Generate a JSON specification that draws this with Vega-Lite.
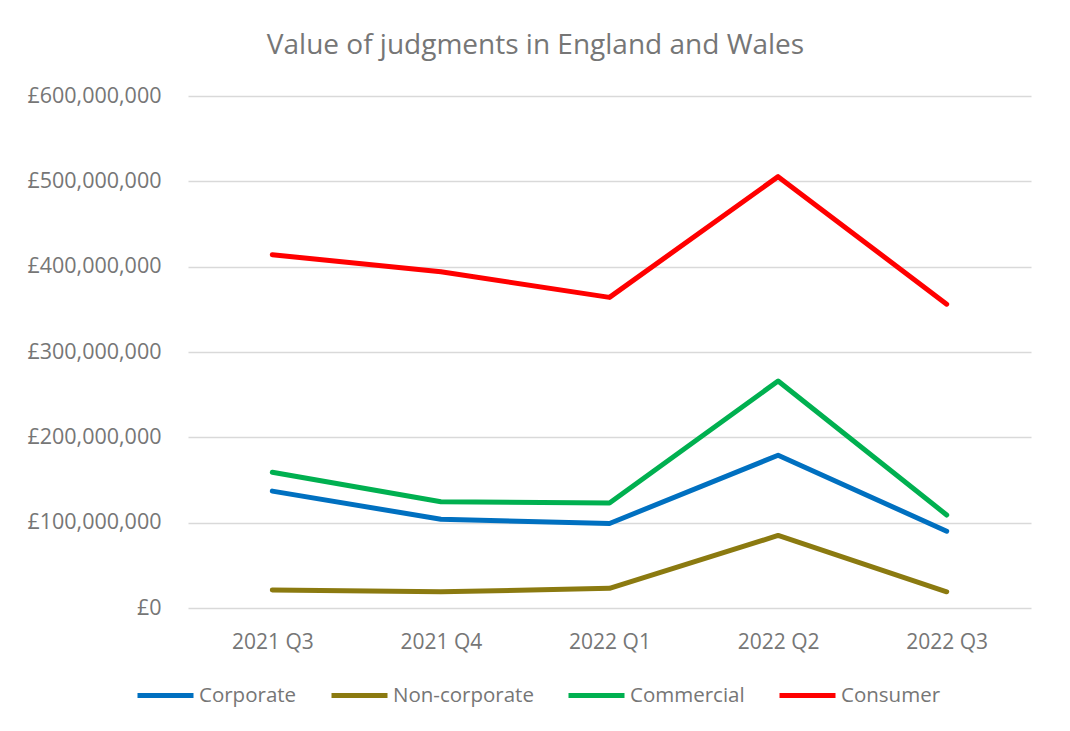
{
  "$schema": "https://vega.github.io/schema/vega-lite/v6.json",
  "width": 843,
  "height": 512,
  "autosize": "none",
  "padding": {"left": 188, "top": 96, "right": 39, "bottom": 123},
  "background": "white",
  "title": {
    "text": "Value of judgments in England and Wales",
    "fontSize": 28,
    "font": "Open Sans",
    "fontWeight": "normal",
    "color": "#767676",
    "anchor": "middle",
    "dx": -74,
    "offset": 25
  },
  "data": {
    "values": [
      {"quarter": "2021 Q3", "series": "Corporate", "value": 137000000},
      {"quarter": "2021 Q4", "series": "Corporate", "value": 104000000},
      {"quarter": "2022 Q1", "series": "Corporate", "value": 99000000},
      {"quarter": "2022 Q2", "series": "Corporate", "value": 179000000},
      {"quarter": "2022 Q3", "series": "Corporate", "value": 90000000},
      {"quarter": "2021 Q3", "series": "Non-corporate", "value": 21000000},
      {"quarter": "2021 Q4", "series": "Non-corporate", "value": 19000000},
      {"quarter": "2022 Q1", "series": "Non-corporate", "value": 23000000},
      {"quarter": "2022 Q2", "series": "Non-corporate", "value": 85000000},
      {"quarter": "2022 Q3", "series": "Non-corporate", "value": 19000000},
      {"quarter": "2021 Q3", "series": "Commercial", "value": 159000000},
      {"quarter": "2021 Q4", "series": "Commercial", "value": 124500000},
      {"quarter": "2022 Q1", "series": "Commercial", "value": 123000000},
      {"quarter": "2022 Q2", "series": "Commercial", "value": 266000000},
      {"quarter": "2022 Q3", "series": "Commercial", "value": 109000000},
      {"quarter": "2021 Q3", "series": "Consumer", "value": 414000000},
      {"quarter": "2021 Q4", "series": "Consumer", "value": 394000000},
      {"quarter": "2022 Q1", "series": "Consumer", "value": 364000000},
      {"quarter": "2022 Q2", "series": "Consumer", "value": 505500000},
      {"quarter": "2022 Q3", "series": "Consumer", "value": 356000000}
    ]
  },
  "mark": {"type": "line", "strokeWidth": 5, "strokeCap": "round", "strokeJoin": "round"},
  "encoding": {
    "x": {
      "field": "quarter",
      "type": "ordinal",
      "scale": {"type": "point", "padding": 0.5},
      "axis": {
        "title": null,
        "labelAngle": 0,
        "domain": false,
        "ticks": false,
        "grid": false,
        "labelPadding": 23,
        "labelFontSize": 21,
        "labelFont": "Open Sans",
        "labelColor": "#767676"
      }
    },
    "y": {
      "field": "value",
      "type": "quantitative",
      "scale": {"domain": [0, 600000000], "nice": false},
      "axis": {
        "title": null,
        "values": [0, 100000000, 200000000, 300000000, 400000000, 500000000, 600000000],
        "labelExpr": "'£' + format(datum.value, ',')",
        "domain": false,
        "ticks": false,
        "gridColor": "#d9d9d9",
        "gridWidth": 1.5,
        "labelPadding": 27,
        "labelFontSize": 21.5,
        "labelFont": "Open Sans",
        "labelColor": "#767676"
      }
    },
    "color": {
      "field": "series",
      "type": "nominal",
      "sort": ["Corporate", "Non-corporate", "Commercial", "Consumer"],
      "scale": {
        "domain": ["Corporate", "Non-corporate", "Commercial", "Consumer"],
        "range": ["#0070C0", "#8B7A10", "#00B050", "#FF0000"]
      },
      "legend": {
        "title": null,
        "orient": "none",
        "direction": "horizontal",
        "legendX": -53,
        "legendY": 569,
        "symbolType": "stroke",
        "symbolSize": 3136,
        "symbolStrokeWidth": 5,
        "labelFontSize": 20.5,
        "labelFont": "Open Sans",
        "labelColor": "#767676",
        "labelOffset": 3,
        "columnPadding": 24
      }
    }
  },
  "config": {
    "view": {"stroke": null}
  }
}
